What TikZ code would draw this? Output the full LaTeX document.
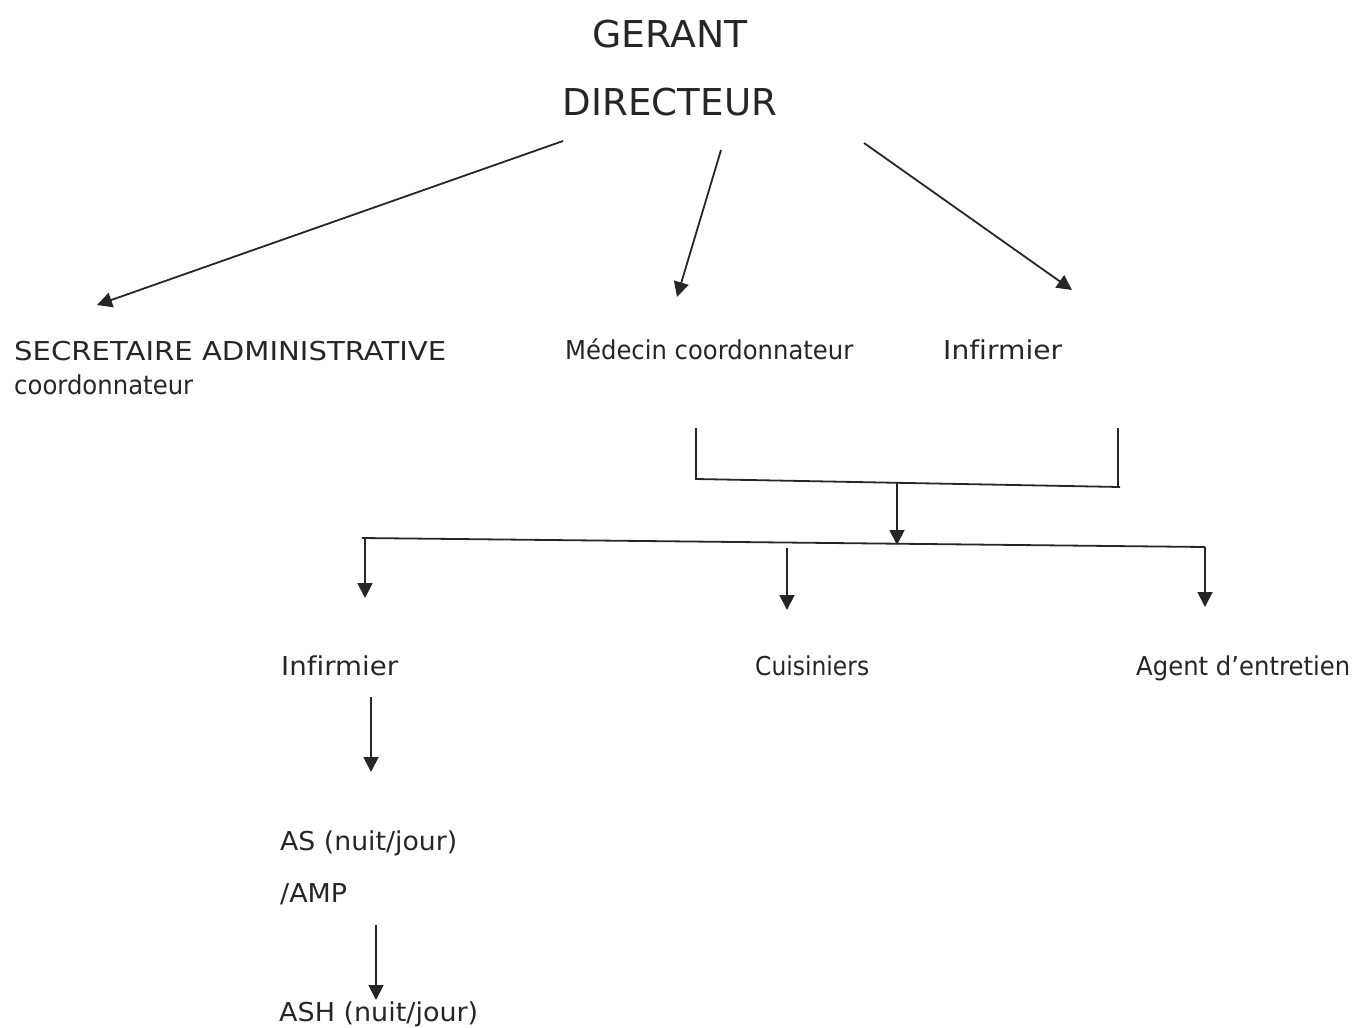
\documentclass[tikz,border=0pt]{standalone}
\usepackage{fontspec}
\usepackage{graphicx}
\setmainfont{DejaVu Sans}[Ligatures=NoCommon]
\usetikzlibrary{arrows.meta}
\newcommand\fitw[2]{\resizebox{#1pt}{\height}{#2}}
\begin{document}
\begin{tikzpicture}[x=1pt,y=-1pt,
  lbl/.style={inner sep=0pt,font=\fontsize{26}{30}\selectfont,anchor=base west,text=black!85},
  ttl/.style={inner sep=0pt,font=\fontsize{37}{42}\selectfont,anchor=base,text=black!85},
  conn/.style={line width=1.8pt,black!85},
  arr/.style={conn,-{Triangle[length=15pt,width=15pt]}}]
\useasboundingbox (0,0) rectangle (1355,1028);
% texts
\node[ttl] (gerant) at (670,47) {\fitw{155}{GERANT}};
\node[ttl] (dir) at (670,115) {\fitw{214}{DIRECTEUR}};
\node[lbl] (sec) at (14,360) {\fitw{432}{SECRETAIRE ADMINISTRATIVE}};
\node[lbl] (seccoord) at (14,394) {\fitw{179}{coordonnateur}};
\node[lbl] (med) at (565,359) {\fitw{288}{Médecin coordonnateur}};
\node[lbl] (inf1) at (943,359) {\fitw{119}{Infirmier}};
\node[lbl] (inf2) at (281,675) {\fitw{117}{Infirmier}};
\node[lbl] (cuis) at (755,675) {\fitw{114}{Cuisiniers}};
\node[lbl] (agent) at (1136,675) {\fitw{214}{Agent d’entretien}};
\node[lbl] (as) at (280,850) {\fitw{177}{AS (nuit/jour)}};
\node[lbl] (amp) at (280,902) {\fitw{67}{/AMP}};
\node[lbl] (ash) at (279,1021) {\fitw{199}{ASH (nuit/jour)}};
% coordinates
\coordinate (d1) at (563,141);
\coordinate (s1) at (97,305);
\coordinate (d2) at (721,150);
\coordinate (m1) at (677,297);
\coordinate (d3) at (864,143);
\coordinate (i1) at (1072,290);
\coordinate (bl) at (696,428);
\coordinate (blb) at (696,479);
\coordinate (brb) at (1120,487);
\coordinate (br) at (1118,428);
\coordinate (brl) at (1118,486);
\coordinate (bm) at (897,483);
\coordinate (hm) at (897,545);
\coordinate (hl) at (362,538);
\coordinate (hr) at (1205,547);
\coordinate (a1s) at (365,538);
\coordinate (a1e) at (365,598);
\coordinate (a2s) at (787,548);
\coordinate (a2e) at (787,610);
\coordinate (a3e) at (1205,607);
\coordinate (a4s) at (371,697);
\coordinate (a4e) at (371,772);
\coordinate (a5s) at (376,925);
\coordinate (a5e) at (376,1000);
% connectors
\draw[arr] (d1) -- (s1);
\draw[arr] (d2) -- (m1);
\draw[arr] (d3) -- (i1);
\draw[conn] (bl) -- (blb) -- (brb);
\draw[conn] (br) -- (brl);
\draw[arr] (bm) -- (hm);
\draw[conn] (hl) -- (hr);
\draw[arr] (a1s) -- (a1e);
\draw[arr] (a2s) -- (a2e);
\draw[arr] (hr) -- (a3e);
\draw[arr] (a4s) -- (a4e);
\draw[arr] (a5s) -- (a5e);
\end{tikzpicture}
\end{document}
